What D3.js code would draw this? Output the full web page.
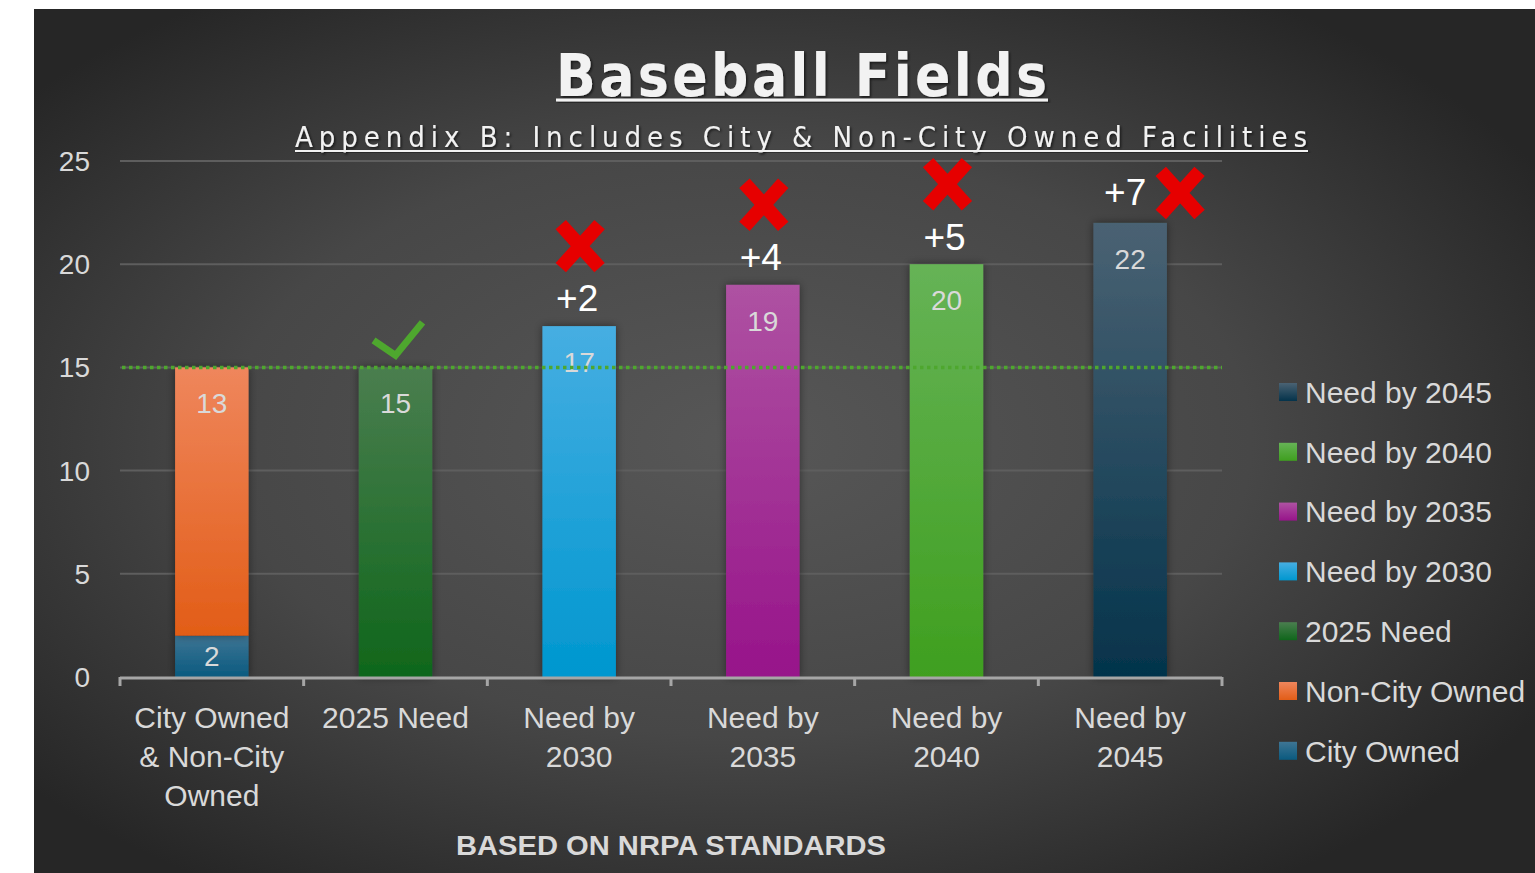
<!DOCTYPE html>
<html>
<head>
<meta charset="utf-8">
<script src="https://cdn.jsdelivr.net/npm/d3@7"></script>
<style>
  html, body { margin: 0; padding: 0; background: #ffffff; }
  svg { display: block; }
</style>
</head>
<body>
<svg id="chart" width="1535" height="873"></svg>
<script>
// ---------- data ----------
const categories = ["City Owned & Non-City Owned", "2025 Need", "Need by 2030", "Need by 2035", "Need by 2040", "Need by 2045"];
const categoryLabelLines = [["City Owned", "& Non-City", "Owned"], ["2025 Need"], ["Need by", "2030"], ["Need by", "2035"], ["Need by", "2040"], ["Need by", "2045"]];
const seriesNames = ["City Owned", "Non-City Owned", "2025 Need", "Need by 2030", "Need by 2035", "Need by 2040", "Need by 2045"];
const cityOwned     = [2, 0, 0, 0, 0, 0];
const nonCityOwned  = [13, 0, 0, 0, 0, 0];
const need2025      = [0, 15, 0, 0, 0, 0];
const need2030      = [0, 0, 17, 0, 0, 0];
const need2035      = [0, 0, 0, 19, 0, 0];
const need2040      = [0, 0, 0, 0, 20, 0];
const need2045      = [0, 0, 0, 0, 0, 22];
const shortfall     = [0, 0, 2, 4, 5, 7];
const statusMarks   = ["", "check", "x", "x", "x", "x"];
const currentSupply = 15;
const yTicks = [0, 5, 10, 15, 20, 25];
const titleText = "Baseball Fields";
const subtitleText = "Appendix B: Includes City & Non-City Owned Facilities";
const footnoteText = "BASED ON NRPA STANDARDS";

// colours (top, bottom of gradient)
const seriesColors = {
  "City Owned":     ["#3e7594", "#0a5a7f"],
  "Non-City Owned": ["#ef865c", "#e25d17"],
  "2025 Need":      ["#4a7e4f", "#0f661b"],
  "Need by 2030":   ["#46aee2", "#0097cf"],
  "Need by 2035":   ["#ae52a2", "#97148a"],
  "Need by 2040":   ["#66b356", "#3f9f1f"],
  "Need by 2045":   ["#4a6273", "#04334b"]
};

const seriesValues = [cityOwned, nonCityOwned, need2025, need2030, need2035, need2040, need2045];
const table = categories.map((c, i) => {
  const row = { category: c };
  seriesNames.forEach((s, k) => row[s] = seriesValues[k][i]);
  return row;
});
const stacked = d3.stack().keys(seriesNames)(table);

// ---------- layout ----------
const W = 1535, H = 873;
const svg = d3.select("#chart");
const defs = svg.append("defs");
const FONT = "'Liberation Sans', Arial, sans-serif";
const NARROW = "'DejaVu Sans Condensed', 'Liberation Sans Narrow', 'Liberation Sans', Arial, sans-serif";

// background radial gradient
const bg = defs.append("radialGradient").attr("id", "bgGrad")
  .attr("cx", "0.47").attr("cy", "0.5").attr("r", "0.62")
  .attr("gradientUnits", "objectBoundingBox");
bg.append("stop").attr("offset", "0").attr("stop-color", "#575757");
bg.append("stop").attr("offset", "0.55").attr("stop-color", "#474747");
bg.append("stop").attr("offset", "1").attr("stop-color", "#262626");

seriesNames.forEach((s, k) => {
  const g = defs.append("linearGradient").attr("id", "g" + k)
    .attr("x1", 0).attr("y1", 0).attr("x2", 0).attr("y2", 1);
  g.append("stop").attr("offset", "0").attr("stop-color", seriesColors[s][0]);
  g.append("stop").attr("offset", "1").attr("stop-color", seriesColors[s][1]);
});

const shadow = defs.append("filter").attr("id", "shadow")
  .attr("x", "-30%").attr("y", "-10%").attr("width", "160%").attr("height", "120%");
shadow.append("feDropShadow").attr("dx", 0).attr("dy", 0).attr("stdDeviation", 4)
  .attr("flood-color", "#000").attr("flood-opacity", 0.45);

const tshadow = defs.append("filter").attr("id", "tshadow")
  .attr("x", "-5%").attr("y", "-20%").attr("width", "110%").attr("height", "140%");
tshadow.append("feDropShadow").attr("dx", 1.5).attr("dy", 1.5).attr("stdDeviation", 1.2)
  .attr("flood-color", "#000").attr("flood-opacity", 0.6);

svg.append("rect").attr("x", 34).attr("y", 9).attr("width", W - 34).attr("height", H - 9)
  .attr("fill", "url(#bgGrad)");

const plot = { left: 120, right: 1222, top: 161, bottom: 677 };

const x = d3.scaleBand().domain(categories).range([plot.left, plot.right])
  .paddingInner(0.6).paddingOuter(0.3);
const y = d3.scaleLinear().domain([0, 25]).range([plot.bottom, plot.top]);

// gridlines
svg.append("g").selectAll("line").data(yTicks.filter(t => t > 0)).join("line")
  .attr("x1", plot.left).attr("x2", plot.right)
  .attr("y1", d => y(d)).attr("y2", d => y(d))
  .attr("stroke", "#5e5e5e").attr("stroke-width", 2);

// y axis labels
const yAxis = d3.axisLeft(y).tickValues(yTicks).tickSize(0).tickPadding(0);
const yg = svg.append("g").attr("transform", `translate(${plot.left - 30},0)`).call(yAxis);
yg.select(".domain").remove();
yg.selectAll("text").attr("font-family", FONT).attr("font-size", 28).attr("fill", "#d9d9d9")
  .attr("dy", "0.34em");

// bars
const barG = svg.append("g");
stacked.forEach((layer, k) => {
  barG.append("g").selectAll("rect").data(layer.filter(d => d[1] - d[0] > 0)).join("rect")
    .attr("x", d => x(d.data.category))
    .attr("width", x.bandwidth())
    .attr("y", d => y(d[1]))
    .attr("height", d => y(d[0]) - y(d[1]))
    .attr("fill", "url(#g" + k + ")")
    .attr("filter", "url(#shadow)");
});

// x axis
const step = x.step();
const xg = svg.append("g");
xg.append("line").attr("x1", plot.left).attr("x2", plot.right)
  .attr("y1", plot.bottom + 1).attr("y2", plot.bottom + 1)
  .attr("stroke", "#a6a6a6").attr("stroke-width", 3);
const bounds = categories.map(c => x(c) - step * x.paddingInner() / 2).concat([plot.right]);
bounds[0] = plot.left;
xg.selectAll("line.tick").data(bounds).join("line").attr("class", "tick")
  .attr("x1", d => d).attr("x2", d => d)
  .attr("y1", plot.bottom).attr("y2", plot.bottom + 9)
  .attr("stroke", "#a6a6a6").attr("stroke-width", 3);
categories.forEach((c, i) => {
  const t = xg.append("text").attr("x", x(c) + x.bandwidth() / 2).attr("y", 728)
    .attr("text-anchor", "middle").attr("font-family", FONT).attr("font-size", 30).attr("fill", "#d9d9d9");
  categoryLabelLines[i].forEach((ln, j) => {
    t.append("tspan").attr("x", x(c) + x.bandwidth() / 2).attr("y", 728 + j * 39).text(ln);
  });
});

// value labels
stacked.forEach((layer) => {
  layer.forEach(d => {
    const v = d[1] - d[0];
    if (v <= 0) return;
    const top = y(d[1]), h = y(d[0]) - y(d[1]);
    const cy = top + Math.min(36, h / 2);
    svg.append("text").attr("x", x(d.data.category) + x.bandwidth() / 2).attr("y", cy)
      .attr("dy", "0.36em").attr("text-anchor", "middle")
      .attr("font-family", FONT).attr("font-size", 28).attr("fill", "#d9d9d9").text(v);
  });
});

// current supply dotted line
svg.append("line").attr("x1", plot.left + 2).attr("x2", plot.right)
  .attr("y1", y(currentSupply)).attr("y2", y(currentSupply))
  .attr("stroke", "#4ea72e").attr("stroke-width", 3.5).attr("stroke-dasharray", "3.5 3.5");

// annotations
const totals = table.map(r => d3.sum(seriesNames, s => r[s]));
function drawX(cx, cy) {
  const g = svg.append("g").attr("transform", `translate(${cx},${cy})`);
  [48, -48].forEach(a => {
    g.append("rect").attr("x", -29).attr("y", -7).attr("width", 58).attr("height", 14)
      .attr("fill", "#e60000").attr("transform", `rotate(${a})`);
  });
}
categories.forEach((c, i) => {
  const cx = x(c) + x.bandwidth() / 2;
  const top = y(totals[i]);
  if (statusMarks[i] === "check") {
    svg.append("path")
      .attr("d", `M${cx - 22},${top - 27} L${cx},${top - 12} L${cx + 27},${top - 45}`)
      .attr("fill", "none").attr("stroke", "#4ea72e").attr("stroke-width", 7);
  } else if (statusMarks[i] === "x") {
    const label = "+" + shortfall[i];
    if (top - 80 < plot.top) {
      svg.append("text").attr("x", cx - 5).attr("y", top - 31).attr("dy", "0.36em")
        .attr("text-anchor", "middle").attr("font-family", FONT).attr("font-size", 37)
        .attr("fill", "#ffffff").text(label);
      drawX(cx + 50, top - 30);
    } else {
      svg.append("text").attr("x", cx - 2).attr("y", top - 28).attr("dy", "0.36em")
        .attr("text-anchor", "middle").attr("font-family", FONT).attr("font-size", 37)
        .attr("fill", "#ffffff").text(label);
      drawX(cx + 1, top - 80);
    }
  }
});

// legend (reverse order)
const legendItems = seriesNames.slice().reverse();
const lg = svg.append("g");
legendItems.forEach((s, i) => {
  const k = seriesNames.indexOf(s);
  const cy = 392 + i * 59.8;
  lg.append("rect").attr("x", 1279).attr("y", cy - 9).attr("width", 18).attr("height", 18)
    .attr("fill", "url(#g" + k + ")");
  lg.append("text").attr("x", 1305).attr("y", cy).attr("dy", "0.36em")
    .attr("font-family", FONT).attr("font-size", 30).attr("fill", "#d9d9d9").text(s);
});

// titles
svg.append("text").attr("x", 556).attr("y", 96)
  .attr("font-family", NARROW).attr("font-weight", "bold").attr("font-size", 58)
  .attr("fill", "#f2f2f2").attr("textLength", 491).attr("lengthAdjust", "spacing")
  .attr("filter", "url(#tshadow)").text(titleText);
svg.append("rect").attr("x", 556).attr("y", 98.5).attr("width", 492).attr("height", 3)
  .attr("fill", "#f2f2f2").attr("filter", "url(#tshadow)");
svg.append("text").attr("x", 295).attr("y", 147)
  .attr("font-family", NARROW).attr("font-size", 29)
  .attr("fill", "#f2f2f2").attr("textLength", 1012).attr("lengthAdjust", "spacing")
  .attr("filter", "url(#tshadow)").text(subtitleText);
svg.append("rect").attr("x", 295).attr("y", 150).attr("width", 1013).attr("height", 2)
  .attr("fill", "#f2f2f2").attr("filter", "url(#tshadow)");

svg.append("text").attr("x", 456).attr("y", 855)
  .attr("font-family", FONT).attr("font-weight", "bold").attr("font-size", 27)
  .attr("fill", "#d9d9d9").attr("textLength", 430).attr("lengthAdjust", "spacingAndGlyphs")
  .text(footnoteText);
</script>
</body>
</html>
